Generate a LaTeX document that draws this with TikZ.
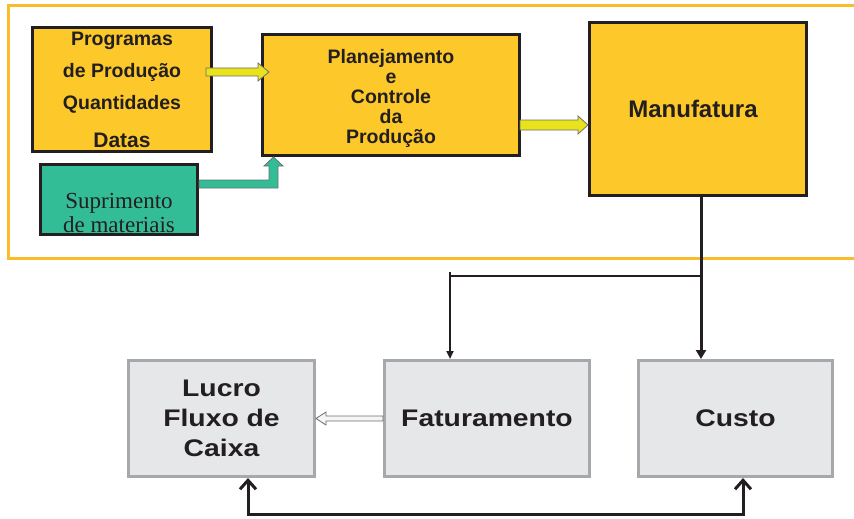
\documentclass[tikz,border=0pt]{standalone}
\usepackage{fontspec}
\setmainfont{Liberation Serif}
\setsansfont{Liberation Sans}
\newfontfamily\widesans[FakeStretch=1.18]{Liberation Sans}
\usepackage{tikz}
\usetikzlibrary{arrows.meta,calc}

\definecolor{ink}{HTML}{231F20}
\definecolor{gold}{HTML}{FCC82A}
\definecolor{framegold}{HTML}{FBBC2C}
\definecolor{tealbox}{HTML}{33BD97}
\definecolor{lemon}{HTML}{E8E31B}
\definecolor{boxfill}{HTML}{E6E7E8}
\definecolor{boxline}{HTML}{A6A8AB}
\definecolor{arrowline}{HTML}{6D6E71}

% block arrow: start, tip, half shaft, half head, head length (negative = to the left)
\newcommand{\harrow}[6][]{%
  \draw[#1] ($(#2)+(0,-#4)$) -- ($(#3)+({-(#6)},-#4)$) -- ($(#3)+({-(#6)},-#5)$) -- (#3)
    -- ($(#3)+({-(#6)},#5)$) -- ($(#3)+({-(#6)},#4)$) -- ($(#2)+(0,#4)$) -- cycle;}

\begin{document}
\begin{tikzpicture}[
  x=1pt, y=-1pt,
  goldbox/.style={draw=ink, line width=3pt, fill=gold, align=center, text=ink, inner sep=0pt},
  graybox/.style={draw=boxline, line width=3pt, fill=boxfill, align=center, text=ink,
    minimum height=116pt, font=\widesans\bfseries\fontsize{24}{30}\selectfont},
  topfont/.style={font=\sffamily\bfseries\fontsize{19.5}{20}\selectfont},
  yarrow/.style={draw=arrowline, line width=0.8pt, fill=lemon},
  tarrow/.style={draw=arrowline, line width=0.8pt, fill=tealbox},
  grayarrow/.style={draw=arrowline, line width=0.8pt, fill=boxfill!40},
  link/.style={draw=ink, line cap=butt},
  frame/.style={draw=framegold, line width=3pt}
]
\useasboundingbox (0,0) rectangle (854,519);
\clip (0,0) rectangle (854,519);

% upper block, inside the frame
\draw[frame] (8,6) rectangle (880,258);

\node[goldbox, minimum width=179pt, minimum height=124pt,
  font=\sffamily\bfseries\fontsize{19.5}{32}\selectfont] (prog) at (122,89.5)
  {Programas\\de Produção\\Quantidades\\[6pt]{\fontsize{21}{32}\selectfont Datas}};
\node[goldbox, topfont, minimum width=257pt, minimum height=121pt] (plan) at (391,95)
  {\rule{0pt}{22pt}Planejamento\\e\\Controle\\da\\Produção};
\node[goldbox, minimum width=217pt, minimum height=173pt,
  font=\sffamily\bfseries\fontsize{24}{28}\selectfont] (mfg) at (698,109) {Manufatura\hspace*{10pt}};
\node[draw=ink, line width=3pt, fill=tealbox, minimum width=157pt, minimum height=70pt,
  label={[yshift=-13pt, align=center, text=ink, font=\fontsize{23}{24}\selectfont]center:Suprimento\\de materiais}]
  (sup) at (119,199.5) {};

% block arrows
\coordinate (a1s) at ($(prog.east)+(-7,-17.5)$);
\coordinate (a1e) at ($(plan.west)+(8,-23)$);
\harrow[yarrow]{a1s}{a1e}{4}{9}{11}
\coordinate (a2s) at ($(plan.east)+(-1,30)$);
\coordinate (a2e) at (mfg.west |- a2s);
\harrow[yarrow]{a2s}{a2e}{5}{9}{10}
\coordinate (ttip) at ($(plan.south west)+(12.5,0)$);
\draw[tarrow] ($(sup.east)+(0,-19.5)$) -| ($(ttip)+(-4.5,9)$) -- ($(ttip)+(-9.5,9)$) -- (ttip)
  -- ($(ttip)+(9.5,9)$) -- ($(ttip)+(4.5,9)$) |- ($(sup.east)+(0,-11.5)$) -- cycle;

% lower block
\node[graybox, minimum width=186pt] (lucro) at (221.5,418.5) {Lucro\\Fluxo de\\Caixa};
\node[graybox, minimum width=205pt] (fat) at (487,418.5) {Faturamento};
\node[graybox, minimum width=194pt] (cost) at (735.5,418.5) {Custo};

\harrow[grayarrow]{fat.west}{lucro.east}{2.5}{6.5}{-10}

% lines from Manufatura
\coordinate (split) at (701,276);
\coordinate (tee) at (450,272);
\draw[link, line width=3pt, -{Triangle[width=10pt,length=9pt]}] (mfg.south -| split) -- (split |- cost.north);
\draw[link, line width=2pt] (split) -- (split -| tee);
\draw[link, line width=2pt, -{Triangle[width=7pt,length=8pt]}] (tee) -- (tee |- fat.north);

% loop under the boxes
\coordinate (loopL) at (248,514);
\coordinate (loopR) at (743,514);
\draw[link, line width=3pt, {Straight Barb[length=9pt,width=16pt]}-{Straight Barb[length=9pt,width=16pt]}]
  (loopL |- lucro.south) -- (loopL) -- (loopR) -- (loopR |- cost.south);
\end{tikzpicture}
\end{document}
